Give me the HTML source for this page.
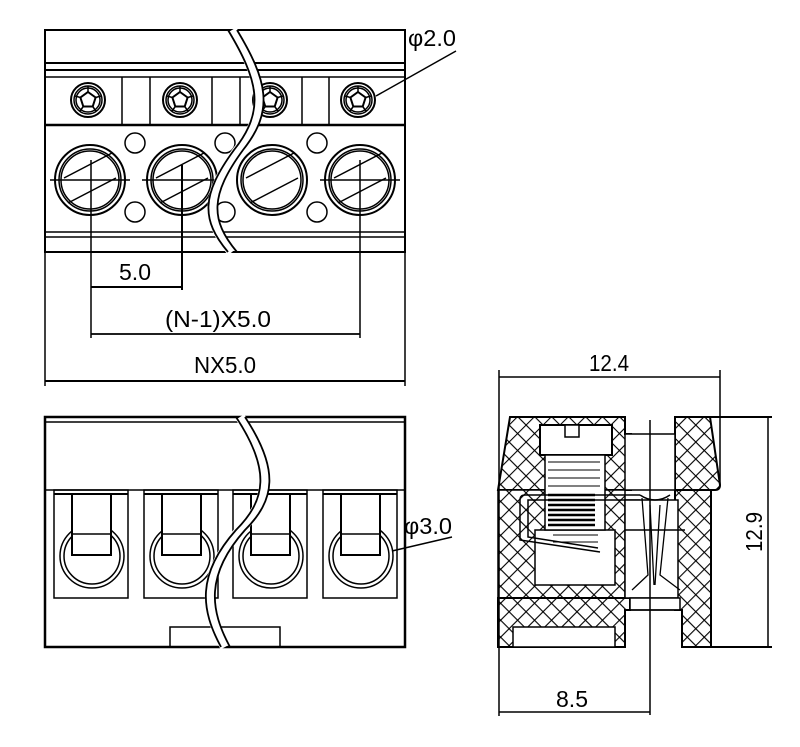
<!DOCTYPE html>
<html><head><meta charset="utf-8"><style>html,body{margin:0;padding:0;background:#fff}svg{display:block}</style></head>
<body>
<svg width="800" height="747" viewBox="0 0 800 747" xmlns="http://www.w3.org/2000/svg" font-family="Liberation Sans, sans-serif">
<defs>
<pattern id="h" width="12" height="12" patternUnits="userSpaceOnUse" patternTransform="rotate(45)">
<rect width="12" height="12" fill="#fff"/>
<path d="M0 0H12M0 0V12" stroke="#000" stroke-width="2.2"/>
</pattern>
</defs>
<g stroke="#000" fill="none" stroke-width="1.5">
<!-- TOP VIEW -->
<rect x="45" y="30" width="360" height="222" stroke-width="2"/>
<line x1="45" y1="63" x2="405" y2="63" stroke-width="2"/>
<line x1="45" y1="70" x2="405" y2="70" stroke-width="2"/>
<line x1="45" y1="77" x2="405" y2="77"/>
<line x1="45" y1="125" x2="405" y2="125" stroke-width="2.5"/>
<line x1="45" y1="232" x2="405" y2="232"/>
<line x1="45" y1="237" x2="405" y2="237"/>
<g>
<line x1="122" y1="77" x2="122" y2="125"/><line x1="150" y1="77" x2="150" y2="125"/>
<line x1="212" y1="77" x2="212" y2="125"/><line x1="240" y1="77" x2="240" y2="125"/>
<line x1="302" y1="77" x2="302" y2="125"/><line x1="329" y1="77" x2="329" y2="125"/>
</g>
<g id="scr">
<circle cx="88" cy="100" r="17" stroke-width="2"/><circle cx="88" cy="100" r="14"/><circle cx="88" cy="100" r="12"/>
<polygon points="88,92 95.6,97.5 92.7,106.5 83.3,106.5 80.4,97.5" stroke-width="2"/>
<line x1="88" y1="86" x2="88" y2="92"/><line x1="101" y1="96" x2="95.6" y2="97.5"/><line x1="96" y1="111" x2="92.7" y2="106.5"/><line x1="80" y1="111" x2="83.3" y2="106.5"/><line x1="75" y1="96" x2="80.4" y2="97.5"/>
</g>
<use href="#scr" x="92"/><use href="#scr" x="182"/><use href="#scr" x="270"/>
<g id="big">
<circle cx="90" cy="180" r="35" stroke-width="2"/><circle cx="90" cy="180" r="31"/><circle cx="90" cy="180" r="29"/>
<line x1="64" y1="178" x2="112" y2="153"/><line x1="68" y1="203" x2="116" y2="178"/>
</g>
<use href="#big" x="92"/><use href="#big" x="182"/><use href="#big" x="270"/>
<g>
<line x1="50" y1="180" x2="130" y2="180"/><line x1="142" y1="180" x2="222" y2="180"/>
<line x1="320" y1="180" x2="400" y2="180"/>
</g>
<circle cx="135" cy="143" r="10"/><circle cx="135" cy="212" r="10"/>
<circle cx="225" cy="143" r="10"/><circle cx="225" cy="212" r="10"/>
<circle cx="317" cy="143" r="10"/><circle cx="317" cy="212" r="10"/>
<!-- wire top -->
<path d="M232 30 C262 80 270 110 238 150 C205 195 205 220 232 252" stroke="#fff" stroke-width="10"/>
<path d="M232 30 C262 80 270 110 238 150 C205 195 205 220 232 252" stroke-width="1.8" transform="translate(-4,0)"/>
<path d="M232 30 C262 80 270 110 238 150 C205 195 205 220 232 252" stroke-width="1.8" transform="translate(5,0)"/>
<!-- dims top -->
<line x1="91" y1="160" x2="91" y2="338"/><line x1="182" y1="165" x2="182" y2="290" stroke-width="2"/>
<line x1="360" y1="160" x2="360" y2="338"/>
<line x1="45" y1="252" x2="45" y2="386"/><line x1="405" y1="252" x2="405" y2="386"/>
<line x1="91" y1="287" x2="182" y2="287" stroke-width="2"/>
<line x1="91" y1="334" x2="360" y2="334" stroke-width="1.8"/>
<line x1="45" y1="381" x2="405" y2="381" stroke-width="2"/>
<line x1="376" y1="96" x2="456" y2="51"/>
<!-- FRONT VIEW -->
<rect x="45" y="417" width="360" height="230" stroke-width="2.5"/>
<line x1="45" y1="422" x2="405" y2="422"/>
<line x1="45" y1="490" x2="405" y2="490"/>
<g id="slot">
<rect x="54" y="490" width="74" height="108"/>
<line x1="54" y1="494" x2="128" y2="494" stroke-width="2"/>
<circle cx="92" cy="556" r="32"/><circle cx="92" cy="556" r="28"/>
<rect x="72" y="494" width="39" height="61" fill="#fff" stroke-width="2"/>
<line x1="72" y1="534" x2="111" y2="534"/>
</g>
<use href="#slot" x="90"/><use href="#slot" x="179"/><use href="#slot" x="269"/>
<rect x="170" y="627" width="110" height="20"/>
<path d="M240 417 C275 470 270 500 240 530 C200 575 205 610 225 647" stroke="#fff" stroke-width="10"/>
<path d="M240 417 C275 470 270 500 240 530 C200 575 205 610 225 647" stroke-width="1.8" transform="translate(-4,0)"/>
<path d="M240 417 C275 470 270 500 240 530 C200 575 205 610 225 647" stroke-width="1.8" transform="translate(5,0)"/>
<line x1="392" y1="551" x2="452" y2="537"/>
<!-- SIDE VIEW -->
<path d="M510 417 H625 V434 H631 V490 H498 Z" fill="url(#h)" stroke-width="2"/>
<path d="M675 417 H710 L720 485 Q720 490 715 490 H675 Z" fill="url(#h)" stroke-width="2"/>
<path d="M675 490 H711 V647 H682 V610 H675 Z" fill="url(#h)" stroke-width="2"/>
<path d="M498 490 H625 V600 H498 Z" fill="url(#h)"/>
<path d="M498 598 H630 V610 H625 V647 H498 Z" fill="url(#h)" stroke-width="2"/>
<rect x="513" y="627" width="102" height="20" fill="#fff"/>
<rect x="535" y="530" width="80" height="55" fill="#fff"/>
<rect x="540" y="425" width="72" height="30" fill="#fff" stroke-width="2"/>
<rect x="565" y="425" width="14" height="12" fill="#fff"/>
<path d="M545 455 H605 V530 H545 Z" fill="#fff"/>
<g stroke-width="2.5"><line x1="548" y1="495" x2="595" y2="495"/><line x1="548" y1="500" x2="595" y2="500"/><line x1="548" y1="505" x2="595" y2="505"/><line x1="548" y1="510" x2="595" y2="510"/><line x1="548" y1="515" x2="595" y2="515"/><line x1="548" y1="520" x2="595" y2="520"/><line x1="548" y1="525" x2="595" y2="525"/></g>
<g stroke-width="1"><line x1="548" y1="462" x2="600" y2="462"/><line x1="548" y1="470" x2="600" y2="470"/><line x1="548" y1="478" x2="600" y2="478"/><line x1="548" y1="486" x2="600" y2="486"/><line x1="553" y1="535" x2="598" y2="535"/><line x1="553" y1="542" x2="598" y2="542"/></g>
<path d="M640 495 H525 Q520 495 520 500 V540 L600 552" stroke-width="1.5"/>
<path d="M640 500 H528 V537 L598 548"/>
<rect x="625" y="434" width="50" height="56" fill="#fff"/>
<rect x="625" y="500" width="53" height="98" fill="#fff"/>
<rect x="630" y="598" width="50" height="12" fill="#fff"/>
<path d="M630 610 H682" />
<line x1="625" y1="530" x2="685" y2="530"/>
<path d="M642 498 L648 575 L632 590 M668 498 L660 575 L680 590 M650 505 L654 585 M660 505 L655 585" stroke-width="1.3"/>
<path d="M640 495 Q655 505 670 495" />
<line x1="650" y1="420" x2="650" y2="715"/>
<line x1="499" y1="370" x2="499" y2="716"/>
<line x1="720" y1="370" x2="720" y2="485"/>
<line x1="711" y1="490" x2="711" y2="647"/>
<line x1="680" y1="417" x2="772" y2="417" stroke-width="2"/>
<line x1="711" y1="647" x2="772" y2="647" stroke-width="2"/>
<line x1="768" y1="417" x2="768" y2="647"/>
<line x1="499" y1="377" x2="720" y2="377"/>
<line x1="499" y1="712" x2="650" y2="712"/>
</g>
<g font-size="23" fill="#000">
<text x="135" y="280" text-anchor="middle" textLength="32" lengthAdjust="spacingAndGlyphs">5.0</text>
<text x="218" y="327" text-anchor="middle" textLength="106" lengthAdjust="spacingAndGlyphs">(N-1)X5.0</text>
<text x="225" y="373" text-anchor="middle" textLength="62" lengthAdjust="spacingAndGlyphs">NX5.0</text>
<text x="408" y="46" textLength="48" lengthAdjust="spacingAndGlyphs">φ2.0</text>
<text x="404" y="534" textLength="48" lengthAdjust="spacingAndGlyphs">φ3.0</text>
<text x="609" y="371" text-anchor="middle" textLength="40" lengthAdjust="spacingAndGlyphs">12.4</text>
<text x="572" y="707" text-anchor="middle" textLength="32" lengthAdjust="spacingAndGlyphs">8.5</text>
<text transform="translate(762,532) rotate(-90)" text-anchor="middle" textLength="40" lengthAdjust="spacingAndGlyphs">12.9</text>
</g>
</svg>
</body></html>
